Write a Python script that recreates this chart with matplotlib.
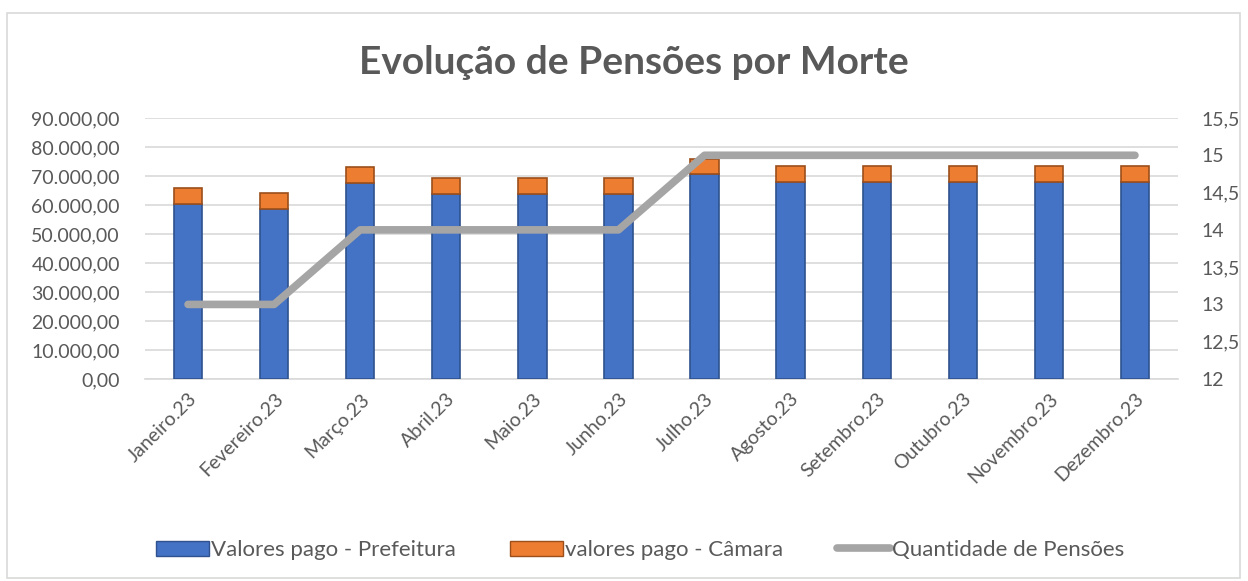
import numpy as np
import matplotlib.pyplot as plt
from matplotlib.patches import Rectangle, Patch
from matplotlib.lines import Line2D

meses = ["Janeiro.23", "Fevereiro.23", "Março.23", "Abril.23", "Maio.23", "Junho.23",
         "Julho.23", "Agosto.23", "Setembro.23", "Outubro.23", "Novembro.23", "Dezembro.23"]
prefeitura = [60200, 58500, 67500, 63700, 63700, 63700, 70600, 67800, 67800, 67800, 67800, 67800]
camara = [5500, 5500, 5500, 5500, 5500, 5500, 5300, 5600, 5600, 5600, 5600, 5600]
qtd_pensoes = [13, 13, 14, 14, 14, 14, 15, 15, 15, 15, 15, 15]

cinza_txt = "#595959"
plt.rcParams['font.family'] = ['Lato', 'DejaVu Sans']

fig = plt.figure(figsize=(12.48, 5.81), dpi=100)
fig.patches.append(Rectangle((7 / 1248, 3 / 581), 1233 / 1248, 565 / 581, transform=fig.transFigure,
                             fill=False, edgecolor="#D9D9D9", linewidth=1.2))

ax = fig.add_axes([145 / 1248, 1 - 379 / 581, (1178 - 145) / 1248, (379 - 118) / 581])
x = np.arange(len(meses))
w = 0.33

ax.bar(x, prefeitura, w, color="#4472C4", edgecolor="#2F528F", linewidth=1.2, zorder=3)
ax.bar(x, camara, w, bottom=prefeitura, color="#ED7D31", edgecolor="#9C4F1B", linewidth=1.2, zorder=3)

ax.set_ylim(0, 90000)
ax.set_yticks(np.arange(0, 90001, 10000))
ax.set_yticklabels([f"{v:,.2f}".replace(",", "X").replace(".", ",").replace("X", ".") for v in range(0, 90001, 10000)])
ax.set_xlim(-0.5, len(meses) - 0.5)
ax.set_xticks(x)
ax.set_xticklabels(meses, rotation=45, ha="right", rotation_mode="anchor")
ax.grid(axis="y", color="#D9D9D9", linewidth=1.2, zorder=0)
ax.set_axisbelow(True)
for s in ["top", "left", "right"]:
    ax.spines[s].set_visible(False)
ax.spines["bottom"].set_color("#D9D9D9")
ax.spines["bottom"].set_linewidth(1.2)
ax.tick_params(length=0, labelsize=14, colors=cinza_txt, pad=8)
ax.tick_params(axis="y", pad=18)

ax2 = ax.twinx()
ax2.plot(x, qtd_pensoes, color="#A5A5A5", linewidth=5.5, solid_capstyle="round",
         solid_joinstyle="round", zorder=5)
ax2.set_ylim(12, 15.5)
ax2.set_yticks(np.arange(12, 15.51, 0.5))
ax2.set_yticklabels([f"{v:g}".replace(".", ",") for v in np.arange(12, 15.51, 0.5)])
for s in ax2.spines.values():
    s.set_visible(False)
ax2.tick_params(length=0, labelsize=14, colors=cinza_txt, pad=17)

fig.text(0.508, 1 - 62 / 581, "Evolução de Pensões por Morte", ha="center", va="center",
         fontsize=28, fontweight="bold", color=cinza_txt)

handles = [Patch(facecolor="#4472C4", edgecolor="#2F528F"),
           Patch(facecolor="#ED7D31", edgecolor="#9C4F1B"),
           Line2D([0], [0], color="#A5A5A5", linewidth=5.5, solid_capstyle="round")]
fig.legend(handles, ["Valores pago - Prefeitura", "valores pago - Câmara", "Quantidade de Pensões"],
           loc="center", bbox_to_anchor=(0.513, 1 - 550 / 581), ncol=3, frameon=False,
           fontsize=16, labelcolor=cinza_txt, handlelength=2.4, handletextpad=0.1,
           columnspacing=2.4, handleheight=0.65)

fig.savefig("out.png", dpi=100)
